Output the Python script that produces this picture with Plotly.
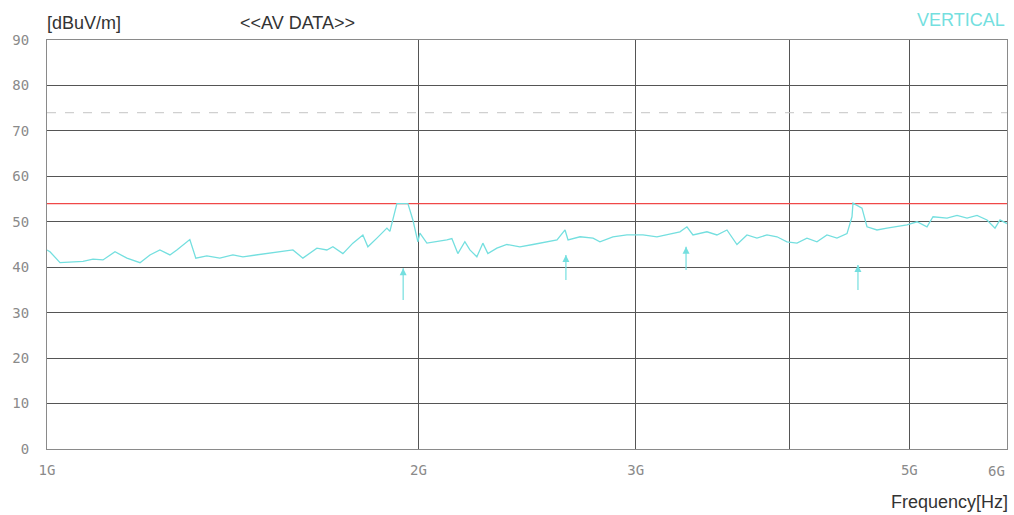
import math
import plotly.graph_objects as go

# Measured AV data trace (frequency in GHz, level in dBuV/m)
freq_ghz = [1.0000, 1.0056, 1.0246, 1.0497, 1.0695, 1.0896, 1.1101, 1.1353, 1.1609, 1.1896,
            1.2118, 1.2345, 1.2579, 1.2742, 1.3055, 1.3201, 1.3476, 1.3807, 1.4147, 1.4414,
            1.4797, 1.5160, 1.5445, 1.5824, 1.6122, 1.6549, 1.6860, 1.7050, 1.7372, 1.7699,
            1.8032, 1.8201, 1.8510, 1.8859, 1.8964, 1.9071, 1.9214, 1.9613, 1.9796, 1.9981,
            2.0056, 2.0320, 2.0702, 2.1092, 2.1290, 2.1529, 2.1813, 2.2018, 2.2307, 2.2558,
            2.2770, 2.3156, 2.3592, 2.4172, 2.4766, 2.5427, 2.5907, 2.6297, 2.6445, 2.7044,
            2.7707, 2.8066, 2.8755, 2.9517, 3.0413, 3.1218, 3.2164, 3.2587, 3.3015, 3.3388,
            3.4272, 3.4917, 3.5576, 3.6246, 3.6929, 3.7624, 3.8333, 3.9057, 3.9791, 4.0542,
            4.1305, 4.2083, 4.2876, 4.3684, 4.4510, 4.4927, 4.5011, 4.5773, 4.6202, 4.7073,
            4.7960, 4.8863, 4.9784, 5.0722, 5.1679, 5.2262, 5.3645, 5.4656, 5.5685, 5.6734,
            5.7803, 5.8671, 5.9223, 6.0000]
level = [43.8, 43.4, 41.0, 41.2, 41.3, 41.8, 41.6, 43.4, 42.0, 41.0,
         42.7, 43.8, 42.7, 43.8, 46.1, 42.0, 42.5, 42.0, 42.7, 42.3,
         42.7, 43.0, 43.4, 43.8, 42.0, 44.2, 43.8, 44.5, 43.0, 45.3,
         47.1, 44.5, 46.4, 48.6, 47.9, 50.4, 54.0, 54.0, 50.4, 45.6,
         47.5, 45.3, 45.6, 46.0, 46.3, 43.0, 45.6, 43.8, 42.3, 45.3,
         43.0, 44.2, 45.0, 44.5, 45.0, 45.6, 46.0, 48.2, 46.0, 46.7,
         46.4, 45.6, 46.7, 47.1, 47.1, 46.7, 47.4, 47.8, 48.9, 47.1,
         47.8, 47.1, 48.2, 45.0, 47.1, 46.4, 47.1, 46.7, 45.6, 45.3,
         46.4, 45.6, 47.1, 46.4, 47.4, 51.1, 54.1, 53.0, 48.9, 48.2,
         48.6, 48.9, 49.3, 50.0, 48.9, 51.1, 50.8, 51.4, 50.8, 51.4,
         50.4, 48.6, 50.4, 49.6]

# Marker arrows (frequency, top, bottom)
mark_freq = [1.944, 2.634, 3.296, 4.543]
mark_top = [39.8, 42.7, 44.5, 40.5]
mark_bottom = [32.8, 37.2, 39.4, 35.0]

# Limit lines
limit_freq = [1.0, 6.0]
av_limit = [54, 54]
pk_limit = [74, 74]

# Axis ticks
x_tickvals = [1, 2, 3, 4, 5, 6]
x_ticktext = ["1G", "2G", "3G", "", "5G", "6G"]
y_tickvals = [0, 10, 20, 30, 40, 50, 60, 70, 80, 90]

CYAN = "#74dfdf"
W, H = 1014, 515
L, R, T, B = 47, 7, 40, 66
pw, ph = W - L - R, H - T - B


def px(x):
    return (x - L) / pw


def py(y):
    return (H - B - y) / ph


fig = go.Figure()
fig.add_trace(go.Scatter(x=limit_freq, y=pk_limit, mode="lines",
                         line=dict(color="#c4c4c4", width=1, dash="dash"), hoverinfo="skip"))
fig.add_trace(go.Scatter(x=limit_freq, y=av_limit, mode="lines",
                         line=dict(color="#f04848", width=1.2), hoverinfo="skip"))
fig.add_trace(go.Scatter(x=freq_ghz, y=level, mode="lines",
                         line=dict(color=CYAN, width=1.3)))

seg_x, seg_y = [], []
for f, t, b in zip(mark_freq, mark_top, mark_bottom):
    seg_x += [f, f, None]
    seg_y += [b, t, None]
fig.add_trace(go.Scatter(x=seg_x, y=seg_y, mode="lines",
                         line=dict(color=CYAN, width=1.2), hoverinfo="skip"))
fig.add_trace(go.Scatter(x=mark_freq, y=mark_top, mode="markers",
                         marker=dict(symbol="arrow-up", size=7, color=CYAN), hoverinfo="skip"))

tickfont = dict(family="DejaVu Sans Mono", size=14, color="#8a8a8a")
textfont = dict(family="Liberation Sans", size=18, color="#333333")

# x tick labels: all but the last via the axis, last one right-aligned at the edge
axis_ticktext = x_ticktext[:-1] + [""]

annotations = [
    dict(text="[dBuV/m]", x=px(45), y=py(23), xref="paper", yref="paper", showarrow=False,
         font=textfont, xanchor="left", yanchor="middle"),
    dict(text="<<AV DATA>>", x=px(238), y=py(23), xref="paper", yref="paper", showarrow=False,
         font=textfont, xanchor="left", yanchor="middle"),
    dict(text="VERTICAL", x=px(1007), y=py(20), xref="paper", yref="paper", showarrow=False,
         font=dict(family="Liberation Sans", size=18, color=CYAN), xanchor="right", yanchor="middle"),
    dict(text="Frequency[Hz]", x=px(1010), y=py(502), xref="paper", yref="paper", showarrow=False,
         font=textfont, xanchor="right", yanchor="middle"),
    dict(text=x_ticktext[-1], x=math.log10(x_tickvals[-1]), y=py(471), xref="x", yref="paper",
         showarrow=False, font=tickfont, xanchor="right", yanchor="middle"),
]

fig.update_layout(
    width=W, height=H,
    margin=dict(l=L, r=R, t=T, b=B),
    paper_bgcolor="white", plot_bgcolor="white",
    showlegend=False,
    xaxis=dict(type="log", range=[0, math.log10(6)], tickvals=x_tickvals, ticktext=axis_ticktext,
               showgrid=True, gridcolor="#555555", gridwidth=1, zeroline=False,
               showline=True, linecolor="#8a8a8a", linewidth=1, mirror=True,
               ticks="", tickfont=tickfont, ticklabelstandoff=8, automargin=False),
    yaxis=dict(range=[0, 90], tickvals=y_tickvals,
               showgrid=True, gridcolor="#555555", gridwidth=1, zeroline=False,
               showline=True, linecolor="#8a8a8a", linewidth=1, mirror=True,
               ticks="", tickfont=tickfont, ticklabelstandoff=14, automargin=False),
    annotations=annotations,
)

fig.write_html("out.html", config={"displayModeBar": False},
               post_script="document.body.style.margin='0';document.body.style.padding='0';")
